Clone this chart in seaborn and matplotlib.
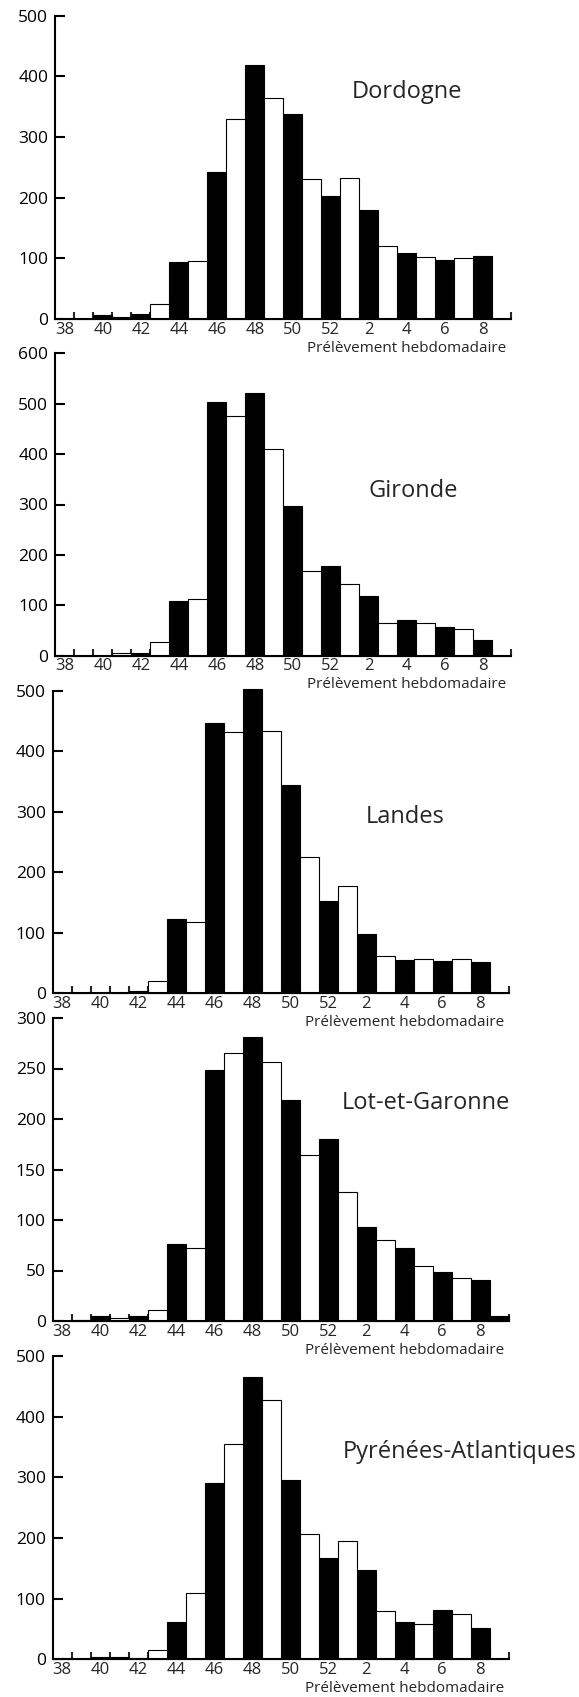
import numpy as np
import pandas as pd
import matplotlib
matplotlib.use('Agg')
import matplotlib.pyplot as plt
import seaborn as sns
from matplotlib.ticker import FixedLocator, FixedFormatter

# Semaines de prélèvement (38 -> 52 puis 1 -> 9)
weeks = list(range(38, 53)) + list(range(1, 10))
tick_labels = ['38', '40', '42', '44', '46', '48', '50', '52', '2', '4', '6', '8']

# Valeurs
dordogne = [0, 0, 6, 4, 9, 25, 94, 95, 242, 329, 418, 365, 338, 231, 203,
            233, 179, 120, 109, 103, 98, 100, 104, 0]
gironde = [0, 0, 0, 5, 5, 28, 108, 112, 503, 475, 522, 411, 297, 168, 178,
           142, 119, 65, 70, 64, 56, 53, 32, 0]
landes = [0, 0, 1, 1, 4, 20, 122, 118, 447, 432, 503, 434, 345, 225, 153,
          177, 98, 62, 55, 57, 54, 56, 52, 0]
lot_et_garonne = [0, 1, 4.6, 3, 4.6, 10.5, 76, 72, 249, 265, 281, 256, 219, 164, 180,
                  128, 93, 80, 72, 54, 48.5, 43, 41, 4.6]
pyrenees = [0, 0, 3, 4, 2, 16, 62, 109, 291, 355, 466, 428, 295, 207, 167,
            195, 147, 80, 61, 59, 82, 74, 51, 0]

names = ['Dordogne', 'Gironde', 'Landes', 'Lot-et-Garonne', 'Pyrénées-Atlantiques']
series = [dordogne, gironde, landes, lot_et_garonne, pyrenees]
y_max = [500, 600, 500, 300, 500]
y_step = [100, 100, 100, 50, 100]

fill_default = ['noir' if w % 2 == 0 else 'blanc' for w in weeks]
fill_lot = fill_default[:-1] + ['noir']
fills = [fill_default, fill_default, fill_default, fill_lot, fill_default]

# position des noms (en unités de données)
name_pos = [(15.1, 375), (15.96, 327), (15.99, 291), (14.7, 216), (14.74, 342)]

# axes en pixels : gauche, zéro, sommet
W, H = 579, 1697
boxes = [(55.3, 319, 15.7), (55.3, 655.7, 353.3), (52.7, 993.3, 690.7),
         (52.7, 1321, 1018), (52.7, 1659.3, 1356)]
ax_width = 456

sns.set_style('ticks')
plt.rcParams['font.family'] = ['Open Sans', 'DejaVu Sans']

fig = plt.figure(figsize=(W / 100, H / 100), dpi=100)

for i in range(5):
    left, zero, top = boxes[i]
    ax = fig.add_axes([left / W, (H - zero) / H, ax_width / W, (zero - top) / H])
    ax.patch.set_alpha(0)

    df = pd.DataFrame({'semaine': [str(w) for w in weeks],
                       'valeur': series[i],
                       'couleur': fills[i]})
    sns.barplot(data=df, x='semaine', y='valeur', hue='couleur',
                order=[str(w) for w in weeks], hue_order=['noir', 'blanc'],
                palette={'noir': 'black', 'blanc': 'white'}, dodge=False,
                width=1, edgecolor='black', linewidth=0.8, saturation=1,
                legend=False, ax=ax)
    for p in ax.patches:
        p.set_clip_on(False)

    ax.set_xlim(-0.5, len(weeks) - 0.5)
    ax.set_ylim(0, y_max[i])
    ax.set_xlabel('')
    ax.set_ylabel('')

    ax.yaxis.set_major_locator(FixedLocator(np.arange(0, y_max[i] + 1, y_step[i])))
    ax.xaxis.set_major_locator(FixedLocator(np.arange(0, len(weeks), 2)))
    ax.xaxis.set_major_formatter(FixedFormatter(tick_labels))
    ax.xaxis.set_minor_locator(FixedLocator(np.arange(0.5, len(weeks), 1)))

    ax.tick_params(axis='y', direction='in', length=7.5, width=1.5,
                   labelsize=12.5, pad=5, colors='black')
    ax.tick_params(axis='x', which='major', length=0, labelsize=12, pad=2)
    ax.tick_params(axis='x', which='minor', direction='in', length=5, width=1.5)

    sns.despine(ax=ax, top=True, right=True)
    for s in ['left', 'bottom']:
        ax.spines[s].set_linewidth(1.5)
        ax.spines[s].set_color('black')

    ax.text(name_pos[i][0], name_pos[i][1], names[i], fontsize=17,
            ha='left', va='center')
    ax.text(0.99, -0.096, 'Prélèvement hebdomadaire', fontsize=11,
            ha='right', va='center', transform=ax.transAxes)

fig.savefig('out.png', dpi=100)
